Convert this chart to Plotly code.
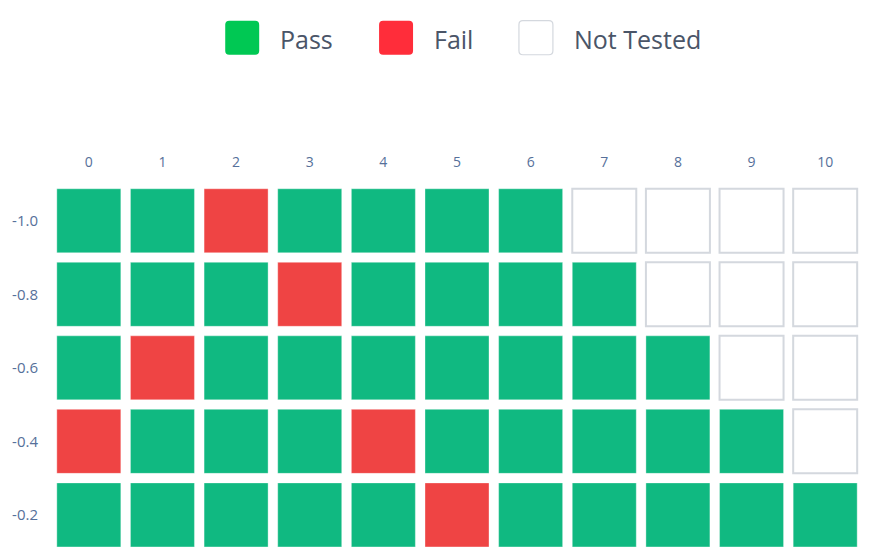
import plotly.graph_objects as go

# ---- data ----
columns = list(range(11))
row_labels = [-1.0, -0.8, -0.6, -0.4, -0.2]
# P = pass, F = fail, N = not tested
grid = [
    ["P", "P", "F", "P", "P", "P", "P", "N", "N", "N", "N"],
    ["P", "P", "P", "F", "P", "P", "P", "P", "N", "N", "N"],
    ["P", "F", "P", "P", "P", "P", "P", "P", "P", "N", "N"],
    ["F", "P", "P", "P", "F", "P", "P", "P", "P", "P", "N"],
    ["P", "P", "P", "P", "P", "F", "P", "P", "P", "P", "P"],
]
legend_names = ["Pass", "Fail", "Not Tested"]

fill = {"P": "#10b981", "F": "#ef4444", "N": "#ffffff"}
edge = {"P": "rgba(255,255,255,0.35)", "F": "rgba(255,255,255,0.35)", "N": "#d4d8de"}
edge_w = {"P": 1, "F": 1, "N": 2}

xs, ys, cols, lcols, lws = [], [], [], [], []
for r, yv in enumerate(row_labels):
    for c, xv in enumerate(columns):
        s = grid[r][c]
        xs.append(xv)
        ys.append(yv)
        cols.append(fill[s])
        lcols.append(edge[s])
        lws.append(edge_w[s])

fig = go.Figure()
fig.add_trace(go.Scatter(
    x=xs, y=ys, mode="markers",
    marker=dict(symbol="square", size=64, color=cols,
                line=dict(color=lcols, width=lws)),
    hoverinfo="x+y", showlegend=False, cliponaxis=False,
))

tick_font = dict(family="Open Sans, Noto Sans, sans-serif", size=14, color="#56709a")
fig.update_xaxes(
    range=[-0.5, 10.5], side="top", tickmode="array", tickvals=columns,
    ticktext=[str(c) for c in columns], showgrid=False, zeroline=False,
    showline=False, ticks="", tickfont=tick_font, ticklabelstandoff=13,
)
fig.update_yaxes(
    range=[-0.11, -1.1], tickmode="array", tickvals=row_labels,
    ticktext=[f"{v:.1f}" for v in row_labels], showgrid=False, zeroline=False,
    showline=False, ticks="", tickfont=dict(tick_font, size=15), ticklabelstandoff=13,
)

# legend drawn as shapes + text in paper space
legend_colors = [("#00c853", "#00c853"), ("#ff2d3a", "#ff2d3a"), ("#ffffff", "#d4d8de")]
legend_x = [225, 379, 519]
W, H = 871, 548
ml, mr, mt, mb = 51.6, 8.6, 184.2, 0
pw, ph = W - ml - mr, H - mt - mb

def px_to_paper_x(px):
    return (px - ml) / pw

def py_to_paper_y(py):
    return (H - mb - py) / ph

shapes = []
annotations = []
for name, (fc, lc), x0 in zip(legend_names, legend_colors, legend_x):
    x1 = x0 + 34
    y0, y1 = 21, 55
    r = 4
    X0, X1 = px_to_paper_x(x0), px_to_paper_x(x1)
    Y0, Y1 = py_to_paper_y(y1), py_to_paper_y(y0)
    rx, ry = r / pw, r / ph
    path = (f"M {X0+rx},{Y0} L {X1-rx},{Y0} Q {X1},{Y0} {X1},{Y0+ry} "
            f"L {X1},{Y1-ry} Q {X1},{Y1} {X1-rx},{Y1} L {X0+rx},{Y1} "
            f"Q {X0},{Y1} {X0},{Y1-ry} L {X0},{Y0+ry} Q {X0},{Y0} {X0+rx},{Y0} Z")
    shapes.append(dict(type="path", xref="paper", yref="paper", path=path,
                       fillcolor=fc, line=dict(color=lc, width=1.2 if fc == "#ffffff" else 0)))
    annotations.append(dict(xref="paper", yref="paper", x=px_to_paper_x(x1 + 19),
                            y=py_to_paper_y(39), xanchor="left", yanchor="middle",
                            text=name, showarrow=False,
                            font=dict(family="Open Sans, Noto Sans, sans-serif", size=25,
                                      color="#4a5568")))

fig.update_layout(
    width=W, height=H,
    margin=dict(l=ml, r=mr, t=mt, b=mb, pad=0),
    plot_bgcolor="white", paper_bgcolor="white",
    shapes=shapes, annotations=annotations, showlegend=False,
)

fig.write_html("out.html", config={"displayModeBar": False},
               post_script="document.body.style.margin='0';document.body.style.overflow='hidden';")
